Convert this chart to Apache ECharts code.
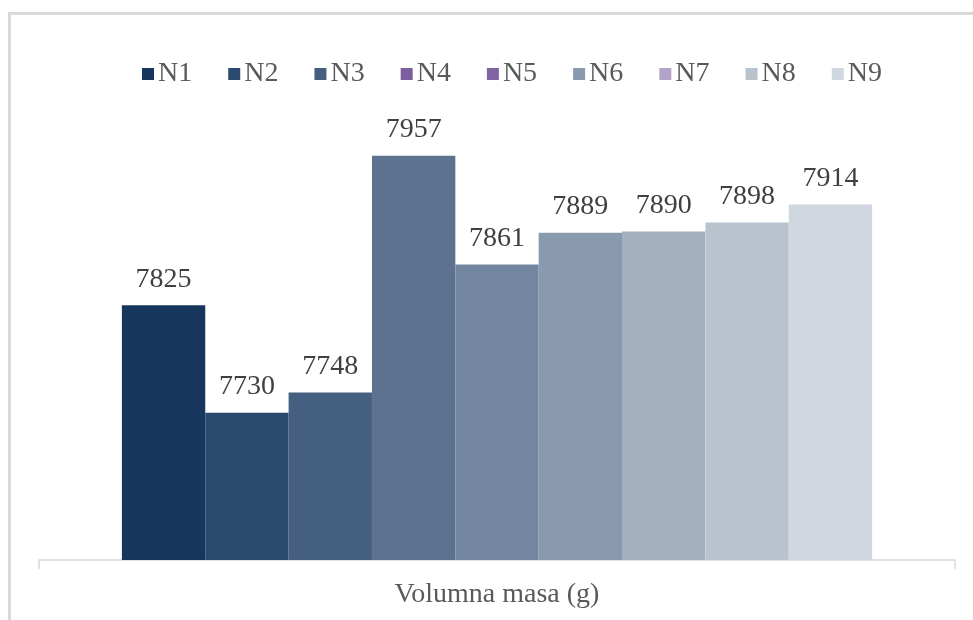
<!DOCTYPE html>
<html>
<head>
<meta charset="utf-8">
<script src="https://cdn.jsdelivr.net/npm/echarts@6/dist/echarts.min.js"></script>
<style>
  html, body { margin: 0; padding: 0; background: #fff; }
  #frame { position: absolute; left: 8px; top: 12px; width: 965px; height: 608px;
           border-left: 3px solid #d9d9d9; border-top: 3px solid #d9d9d9; box-sizing: border-box; }
  #main { position: absolute; left: 0; top: 0; width: 973px; height: 620px; }
</style>
</head>
<body>
<div id="frame"></div>
<div id="main"></div>
<script>
// Volumna masa po uzorcima
var categories = ['Volumna masa (g)'];
var seriesNames = ['N1', 'N2', 'N3', 'N4', 'N5', 'N6', 'N7', 'N8', 'N9'];
var values = [7825, 7730, 7748, 7957, 7861, 7889, 7890, 7898, 7914];
var barColors = ['#17365d', '#2c4a6e', '#445f7f', '#5c728f', '#73869f', '#8a9aae', '#a2afbe', '#b9c3ce', '#d0d7e0'];
var legendColors = ['#17365d', '#2c4a6e', '#445f7f', '#7c5d9e', '#8064a2', '#8a9aae', '#b3a2c7', '#b9c3ce', '#d0d7e0'];

var myChart = echarts.init(document.getElementById('main'));
var font = '"Liberation Serif", "Times New Roman", serif';

var serieData = [];
var legendData = [];
for (var v = 0; v < seriesNames.length; v++) {
    serieData.push({
        name: seriesNames[v],
        type: 'bar',
        barGap: '0%',
        barCategoryGap: '18.1%',
        itemStyle: {color: barColors[v]},
        label: {show: true, position: 'top', distance: 12,
                color: '#404040', fontSize: 28, fontFamily: font},
        data: [values[v]]
    });
    legendData.push({name: seriesNames[v], itemStyle: {color: legendColors[v]}});
}

var option = {
    animation: false,
    backgroundColor: 'transparent',
    legend: {
        show: true, top: 55, left: 137, data: legendData,
        icon: 'rect', itemWidth: 12, itemHeight: 12, itemGap: 36,
        textStyle: {color: '#595959', fontSize: 28, fontFamily: font, padding: [0, 0, 0, -1]}
    },
    grid: {left: 39, right: 18, top: 107, bottom: 60},
    xAxis: [{
        type: 'category',
        data: categories,
        axisLine: {show: true, lineStyle: {color: '#d9d9d9', width: 1.5}},
        axisTick: {show: true, length: 9, lineStyle: {color: '#d9d9d9', width: 1.5}},
        axisLabel: {color: '#595959', fontSize: 28, fontFamily: font, margin: 21}
    }],
    yAxis: [{
        type: 'value',
        min: 7600, max: 8000, interval: 100,
        show: false,
        splitLine: {show: false}
    }],
    series: serieData
};

myChart.setOption(option);
</script>
</body>
</html>
